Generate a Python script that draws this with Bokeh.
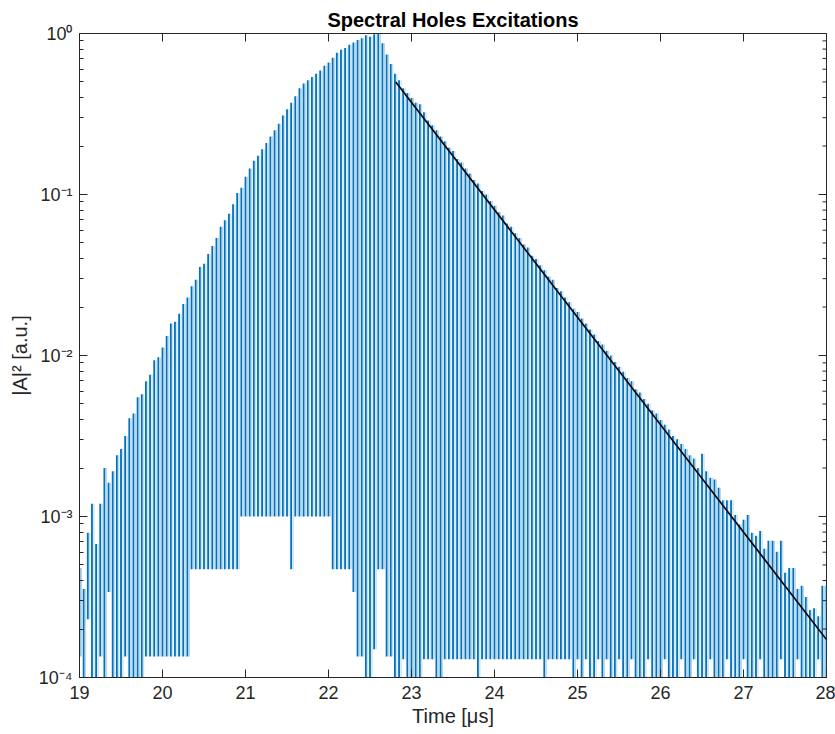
import math
from bokeh.plotting import figure
from bokeh.models import FixedTicker, Range1d, ColumnDataSource
from bokeh.transform import dodge
from bokeh.embed import file_html
from bokeh.resources import INLINE

# ---------------- data ----------------
spike_time = [
    19.00, 19.05, 19.10, 19.15, 19.20, 19.25, 19.30, 19.35, 19.40, 19.45,
    19.50, 19.55, 19.60, 19.65, 19.70, 19.75, 19.80, 19.85, 19.90, 19.95,
    20.00, 20.05, 20.10, 20.15, 20.20, 20.25, 20.30, 20.35, 20.40, 20.45,
    20.50, 20.55, 20.60, 20.65, 20.70, 20.75, 20.80, 20.85, 20.90, 20.95,
    21.00, 21.05, 21.10, 21.15, 21.20, 21.25, 21.30, 21.35, 21.40, 21.45,
    21.50, 21.55, 21.60, 21.65, 21.70, 21.75, 21.80, 21.85, 21.90, 21.95,
    22.00, 22.05, 22.10, 22.15, 22.20, 22.25, 22.30, 22.35, 22.40, 22.45,
    22.50, 22.55, 22.60, 22.65, 22.70, 22.75, 22.80, 22.85, 22.90, 22.95,
    23.00, 23.05, 23.10, 23.15, 23.20, 23.25, 23.30, 23.35, 23.40, 23.45,
    23.50, 23.55, 23.60, 23.65, 23.70, 23.75, 23.80, 23.85, 23.90, 23.95,
    24.00, 24.05, 24.10, 24.15, 24.20, 24.25, 24.30, 24.35, 24.40, 24.45,
    24.50, 24.55, 24.60, 24.65, 24.70, 24.75, 24.80, 24.85, 24.90, 24.95,
    25.00, 25.05, 25.10, 25.15, 25.20, 25.25, 25.30, 25.35, 25.40, 25.45,
    25.50, 25.55, 25.60, 25.65, 25.70, 25.75, 25.80, 25.85, 25.90, 25.95,
    26.00, 26.05, 26.10, 26.15, 26.20, 26.25, 26.30, 26.35, 26.40, 26.45,
    26.50, 26.55, 26.60, 26.65, 26.70, 26.75, 26.80, 26.85, 26.90, 26.95,
    27.00, 27.05, 27.10, 27.15, 27.20, 27.25, 27.30, 27.35, 27.40, 27.45,
    27.50, 27.55, 27.60, 27.65, 27.70, 27.75, 27.80, 27.85, 27.90, 27.95,
    28.00,
]

spike_peak = [
    4.79e-4, 3.55e-4, 7.94e-4, 1.20e-3, 6.76e-4, 1.20e-3, 2.00e-3, 1.62e-3, 1.91e-3, 2.40e-3,
    2.63e-3, 3.16e-3, 4.07e-3, 4.37e-3, 5.50e-3, 5.75e-3, 6.92e-3, 7.59e-3, 9.33e-3, 9.77e-3,
    1.12e-2, 1.32e-2, 1.58e-2, 1.62e-2, 1.82e-2, 2.09e-2, 2.29e-2, 2.69e-2, 2.95e-2, 3.55e-2,
    3.72e-2, 4.27e-2, 4.79e-2, 5.37e-2, 6.31e-2, 6.92e-2, 7.59e-2, 8.71e-2, 0.102, 0.110,
    0.129, 0.145, 0.162, 0.174, 0.191, 0.209, 0.229, 0.251, 0.275, 0.309,
    0.339, 0.372, 0.407, 0.457, 0.490, 0.513, 0.537, 0.562, 0.589, 0.631,
    0.661, 0.708, 0.759, 0.794, 0.813, 0.851, 0.879, 0.912, 0.933, 0.977,
    0.955, 0.989, 1.05, 0.871, 0.741, 0.646, 0.562, 0.513, 0.457, 0.427,
    0.398, 0.372, 0.363, 0.324, 0.288, 0.269, 0.251, 0.229, 0.214, 0.195,
    0.186, 0.166, 0.158, 0.145, 0.135, 0.123, 0.117, 0.105, 0.100, 0.0912,
    0.0851, 0.0776, 0.0741, 0.0661, 0.0631, 0.0575, 0.0537, 0.0490, 0.0468, 0.0417,
    0.0398, 0.0363, 0.0339, 0.0309, 0.0295, 0.0263, 0.0251, 0.0229, 0.0214, 0.0195,
    0.0186, 0.0170, 0.0158, 0.0145, 0.0135, 0.0123, 0.0117, 0.0107, 0.0100, 9.12e-3,
    8.51e-3, 7.94e-3, 7.24e-3, 6.92e-3, 6.17e-3, 5.89e-3, 5.37e-3, 5.01e-3, 4.57e-3, 4.37e-3,
    3.98e-3, 3.72e-3, 3.47e-3, 3.16e-3, 3.02e-3, 2.82e-3, 2.63e-3, 2.40e-3, 2.29e-3, 2.00e-3,
    2.45e-3, 1.91e-3, 1.74e-3, 1.70e-3, 1.51e-3, 1.26e-3, 1.26e-3, 1.26e-3, 1.02e-3, 8.91e-4,
    9.55e-4, 1.02e-3, 7.94e-4, 7.59e-4, 8.13e-4, 6.31e-4, 7.08e-4, 7.08e-4, 6.03e-4, 7.08e-4,
    4.47e-4, 4.79e-4, 4.79e-4, 3.55e-4, 3.72e-4, 3.16e-4, 2.63e-4, 2.69e-4, 2.40e-4, 3.72e-4,
    3.72e-4,
]

# minimum reached after each spike (values below 1e-4 are cut by the axis)
spike_floor = [
    1.35e-4, 5e-5, 2.3e-4, 5e-5, 5e-5, 1.35e-4, 5e-5, 3.4e-4, 5e-5, 5e-5,
    5e-5, 1.35e-4, 5e-5, 5e-5, 5e-5, 5e-5, 1.35e-4, 1.35e-4, 1.35e-4, 1.35e-4,
    1.35e-4, 1.35e-4, 1.35e-4, 1.35e-4, 1.35e-4, 1.35e-4, 1.35e-4, 4.7e-4, 4.7e-4, 4.7e-4,
    4.7e-4, 4.7e-4, 4.7e-4, 4.7e-4, 4.7e-4, 4.7e-4, 4.7e-4, 4.7e-4, 4.7e-4, 1e-3,
    1e-3, 1e-3, 1e-3, 1e-3, 1e-3, 1e-3, 1e-3, 1e-3, 1e-3, 1e-3,
    1e-3, 4.7e-4, 1e-3, 1e-3, 1e-3, 1e-3, 1e-3, 1e-3, 1e-3, 1e-3,
    1e-3, 4.7e-4, 4.7e-4, 4.7e-4, 4.7e-4, 4.7e-4, 3.4e-4, 1.35e-4, 1.35e-4, 5e-5,
    5e-5, 1.5e-4, 4.7e-4, 4.7e-4, 1.35e-4, 1.35e-4, 5e-5, 5e-5, 1.3e-4, 5e-5,
    5e-5, 5e-5, 5e-5, 1.3e-4, 1.3e-4, 1.3e-4, 5e-5, 5e-5, 1.3e-4, 1.3e-4,
    1.3e-4, 1.3e-4, 1.3e-4, 1.3e-4, 1.3e-4, 1.3e-4, 5e-5, 1.3e-4, 1.3e-4, 1.3e-4,
    1.3e-4, 1.3e-4, 1.3e-4, 1.3e-4, 1.3e-4, 1.3e-4, 1.3e-4, 1.3e-4, 1.3e-4, 1.3e-4,
    1.3e-4, 1.3e-4, 5e-5, 1.3e-4, 1.3e-4, 1.3e-4, 1.3e-4, 1.3e-4, 1.3e-4, 5e-5,
    1.3e-4, 5e-5, 1.3e-4, 5e-5, 5e-5, 1.3e-4, 5e-5, 1.3e-4, 5e-5, 5e-5,
    1.3e-4, 5e-5, 5e-5, 1.3e-4, 5e-5, 5e-5, 5e-5, 1.3e-4, 5e-5, 5e-5,
    5e-5, 1.3e-4, 5e-5, 5e-5, 5e-5, 1.3e-4, 5e-5, 5e-5, 1.3e-4, 5e-5,
    5e-5, 5e-5, 1.3e-4, 5e-5, 5e-5, 5e-5, 1.3e-4, 5e-5, 5e-5, 5e-5,
    1.3e-4, 5e-5, 5e-5, 5e-5, 1.3e-4, 5e-5, 5e-5, 5e-5, 5e-5, 1.3e-4,
    5e-5, 5e-5, 5e-5, 1.3e-4, 5e-5, 5e-5, 5e-5, 5e-5, 1.3e-4, 5e-5,
    5e-5,
]

# exponential fit of the decay (straight line on the log axis)
fit_time = [22.81, 28.0]
fit_value = [0.50, 1.72e-4]

x_ticks = [19, 20, 21, 22, 23, 24, 25, 26, 27, 28]
y_ticks = [1e-4, 1e-3, 1e-2, 1e-1, 1e0]
y_tick_labels = ["10\u207b\u2074", "10\u207b\u00b3", "10\u207b\u00b2", "10\u207b\u00b9", "10\u2070"]
y_minor = [m * d for d in [1e-4, 1e-3, 1e-2, 1e-1] for m in range(2, 10)]

title_text = "Spectral Holes Excitations"
x_label = "Time [\u03bcs]"
y_label = "|A|\u00b2 [a.u.]"

# ---------------- figure ----------------
BLUE = "#0072BD"
AX = "#262626"
FONT = "Liberation Sans"
X0, X1 = 19, 28
Y0, Y1 = 1e-4, 1

p = figure(width=835, height=734, y_axis_type="log",
           x_range=Range1d(X0, X1), y_range=Range1d(Y0, Y1),
           output_backend="svg", toolbar_location=None,
           min_border_left=79, min_border_right=9,
           min_border_top=33, min_border_bottom=57)

p.title.text = title_text
p.title.text_font = FONT
p.title.text_font_size = "20px"
p.title.text_font_style = "bold"
p.title.text_color = "black"
p.title.align = "center"
p.title.standoff = 5

p.grid.visible = False
p.outline_line_color = AX
p.outline_line_width = 1
p.background_fill_color = "white"
p.border_fill_color = "white"

src = ColumnDataSource(dict(t=spike_time, top=spike_peak, bottom=spike_floor))
# faint companion trace of every spike, then the main spike
p.vbar(x=dodge("t", 0.024), width=0.010, top="top", bottom="bottom", source=src,
       fill_color=BLUE, fill_alpha=0.35, line_color=None)
p.vbar(x="t", width=0.022, top="top", bottom="bottom", source=src,
       fill_color=BLUE, line_color=None)

p.line(fit_time, fit_value, line_color="black", line_width=1.6)

# axes
xa = p.xaxis[0]
xa.ticker = FixedTicker(ticks=x_ticks, minor_ticks=[])
ya = p.yaxis[0]
ya.ticker = FixedTicker(ticks=y_ticks, minor_ticks=y_minor)
ya.major_label_overrides = {v: s for v, s in zip(y_ticks, y_tick_labels)}

for ax in (xa, ya):
    ax.axis_line_color = AX
    ax.major_tick_line_color = AX
    ax.minor_tick_line_color = AX
    ax.major_tick_in = 8
    ax.major_tick_out = 0
    ax.minor_tick_in = 4
    ax.minor_tick_out = 0
    ax.major_label_text_font = FONT
    ax.major_label_text_font_size = "18px"
    ax.major_label_text_color = AX
    ax.axis_label_text_font = FONT
    ax.axis_label_text_font_size = "20px"
    ax.axis_label_text_font_style = "normal"
    ax.axis_label_text_color = AX

xa.axis_label = x_label
xa.major_label_standoff = 8
xa.axis_label_standoff = 3
ya.axis_label = y_label
ya.major_label_standoff = 7
ya.axis_label_standoff = 5

# mirrored inward ticks on the top and right edges of the box
p.ray(x=x_ticks, y=[Y1] * len(x_ticks), length=8, length_units="screen",
      angle=-math.pi / 2, line_color=AX, line_width=1)
p.ray(x=[X1] * len(y_ticks), y=y_ticks, length=8, length_units="screen",
      angle=math.pi, line_color=AX, line_width=1)
p.ray(x=[X1] * len(y_minor), y=y_minor, length=4, length_units="screen",
      angle=math.pi, line_color=AX, line_width=1)

open("out.html", "w").write(file_html(p, INLINE))
